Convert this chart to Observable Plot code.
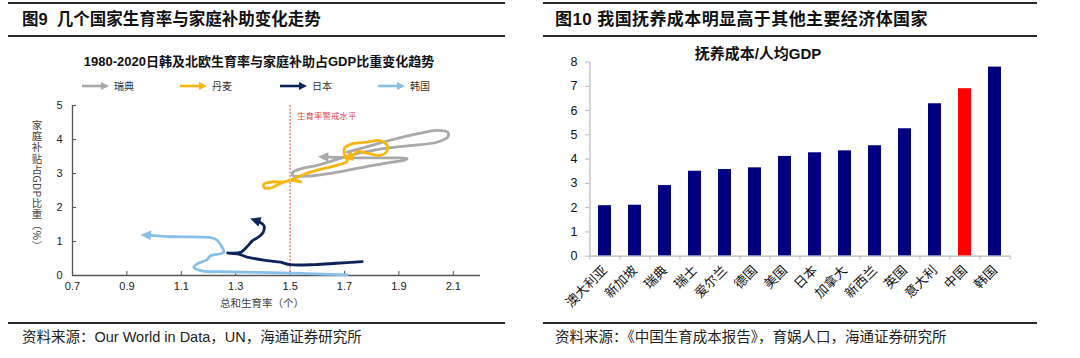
<!DOCTYPE html>
<html><head><meta charset="utf-8">
<script src="https://cdn.jsdelivr.net/npm/d3@7"></script>
<script src="https://cdn.jsdelivr.net/npm/@observablehq/plot@0.6"></script>
<style>
body{margin:0;background:#fff;font-family:"Liberation Sans","Noto Sans CJK SC",sans-serif;color:#111;}
#page{position:relative;width:1080px;height:358px;overflow:hidden;background:#fff;}
.rule{position:absolute;background:#2a2a2a;}
.ttl{position:absolute;font-weight:700;font-size:17px;line-height:17px;white-space:nowrap;color:#111;}
.cap{position:absolute;font-size:14.5px;line-height:15px;white-space:nowrap;color:#222;}
.lg{position:absolute;top:80px;height:12px;font-size:10px;line-height:12px;white-space:nowrap;color:#333;font-family:"Noto Sans CJK SC",sans-serif;}
.lg svg{position:absolute;left:0;top:1px;}
.lg span{position:absolute;top:0;}
svg text{font-family:"Liberation Sans","Noto Sans CJK SC",sans-serif;}
</style></head>
<body><div id="page"></div>
<script>
// ---------- Figure 9 data: (total fertility rate, family benefits % of GDP) paths ----------
const seriesNames = ["瑞典", "丹麦", "日本", "韩国"];
const sweden = [[1.71,3.63],[1.78,3.78],[1.87,3.98],[1.97,4.17],[2.04,4.27],[2.08,4.21],[2.08,4.07],[2.04,3.92],[1.94,3.82],[1.85,3.74],[1.76,3.61],[1.67,3.41],[1.60,3.24],[1.54,3.14],[1.51,3.04],[1.51,2.94],[1.56,2.92],[1.66,3.02],[1.78,3.20],[1.87,3.33],[1.92,3.39],[1.93,3.44],[1.88,3.46],[1.77,3.46],[1.62,3.49]];
const denmark = [[1.54,2.75],[1.50,2.80],[1.465,2.71],[1.43,2.58],[1.406,2.58],[1.403,2.68],[1.43,2.75],[1.48,2.76],[1.51,2.83],[1.55,2.97],[1.61,3.12],[1.67,3.24],[1.71,3.36],[1.70,3.56],[1.70,3.75],[1.73,3.88],[1.78,3.92],[1.83,3.97],[1.855,3.85],[1.855,3.65],[1.83,3.53],[1.78,3.61],[1.75,3.65],[1.73,3.53],[1.71,3.48]];
const japan = [[1.765,0.41],[1.67,0.36],[1.59,0.32],[1.50,0.32],[1.465,0.39],[1.416,0.44],[1.342,0.54],[1.311,0.63],[1.27,0.66],[1.318,0.68],[1.342,0.85],[1.361,1.02],[1.385,1.14],[1.401,1.27],[1.404,1.46],[1.39,1.56],[1.37,1.63]];
const korea = [[1.71,0.02],[1.62,0.04],[1.50,0.07],[1.38,0.09],[1.25,0.11],[1.18,0.13],[1.146,0.24],[1.158,0.34],[1.195,0.47],[1.207,0.58],[1.256,0.68],[1.25,0.83],[1.226,1.07],[1.20,1.12],[1.07,1.14],[0.968,1.19]];
const xTicksL = [0.7, 0.9, 1.1, 1.3, 1.5, 1.7, 1.9, 2.1];
const yTicksL = [0, 1, 2, 3, 4, 5];
const warnLevel = 1.5;
const warnLabel = "生育率警戒水平";

// ---------- Figure 10 data ----------
const countries = ["澳大利亚","新加坡","瑞典","瑞士","爱尔兰","德国","美国","日本","加拿大","新西兰","英国","意大利","中国","韩国"];
const costRatio = [2.08, 2.10, 2.91, 3.50, 3.57, 3.64, 4.11, 4.26, 4.34, 4.55, 5.25, 6.28, 6.90, 7.79];
const yTicksR = [0, 1, 2, 3, 4, 5, 6, 7, 8];

const colors = {"瑞典":"#a9a9a9","丹麦":"#f6b60f","日本":"#0c2559","韩国":"#88c0ea"};
const page = document.getElementById("page");
function add(html){ page.insertAdjacentHTML("beforeend", html); }

// ---------- static frame (rules, titles, captions) ----------
add(`<div class="rule" style="left:8px;top:2px;width:497px;height:2px"></div>`);
add(`<div class="rule" style="left:8px;top:35px;width:497px;height:2px"></div>`);
add(`<div class="rule" style="left:8px;top:322px;width:497px;height:1.5px"></div>`);
add(`<div class="rule" style="left:543px;top:2px;width:494px;height:2px"></div>`);
add(`<div class="rule" style="left:543px;top:35px;width:494px;height:2px"></div>`);
add(`<div class="rule" style="left:543px;top:322px;width:494px;height:1.5px"></div>`);
add(`<div class="ttl" style="left:22px;top:11px;font-size:16.5px">图9&nbsp;&nbsp;几个国家生育率与家庭补助变化走势</div>`);
add(`<div class="ttl" style="left:555px;top:11px;letter-spacing:0.4px">图10 我国抚养成本明显高于其他主要经济体国家</div>`);
add(`<div class="cap" style="left:22px;top:330px">资料来源：Our World in Data，UN，海通证券研究所</div>`);
add(`<div class="cap" style="left:555px;top:330px">资料来源：《中国生育成本报告》，育娲人口，海通证券研究所</div>`);
add(`<div style="position:absolute;left:9px;width:500px;top:55px;text-align:center;font-weight:700;font-size:13px;line-height:14px;white-space:nowrap;color:#111">1980-2020日韩及北欧生育率与家庭补助占GDP比重变化趋势</div>`);
add(`<div style="position:absolute;left:608px;width:300px;top:46px;text-align:center;font-weight:700;font-size:15px;line-height:16px;white-space:nowrap;color:#111">抚养成本/人均GDP</div>`);

// legend
const legendLeft = [82, 180, 280, 378];
seriesNames.forEach((n, i) => {
  const c = colors[n];
  add(`<div class="lg" style="left:${legendLeft[i]}px;width:60px"><svg width="28" height="10"><line x1="0" y1="5" x2="20" y2="5" stroke="${c}" stroke-width="2.6"/><path d="M19,1L27,5L19,9Z" fill="${c}"/></svg><span style="left:32px">${n}</span></div>`);
});

// vertical y-axis title for figure 9: one text element, CJK upright, Latin/brackets turned sideways
(function () {
  const runs = [["家庭补贴占", false], ["GDP", true], ["比重", false], ["（%）", true]];
  const fs = 10.5, cx = 8;
  const meas = document.createElement("canvas").getContext("2d");
  meas.font = `${fs}px "Noto Sans CJK SC"`;
  let y = 1, spans = "";
  for (const [txt, sideways] of runs) {
    for (const ch of txt) {
      if (!sideways) {
        spans += `<tspan x="${cx}" y="${(y + fs * 0.88).toFixed(2)}" text-anchor="middle">${ch}</tspan>`;
        y += fs + 0.6;
      } else {
        const w = meas.measureText(ch).width;
        spans += `<tspan x="${(cx - fs * 0.36).toFixed(2)}" y="${y.toFixed(2)}" rotate="90">${ch}</tspan>`;
        y += w + 0.3;
      }
    }
  }
  add(`<svg style="position:absolute;left:29px;top:119px;overflow:visible" width="16" height="${Math.ceil(y)}"><text font-size="${fs}" fill="#444" style="font-family:'Noto Sans CJK SC'">${spans}</text></svg>`);
})();
add(`<div style="position:absolute;left:162px;width:200px;top:297px;text-align:center;font-family:'Noto Sans CJK SC',sans-serif;font-size:10.5px;line-height:12px;color:#444">总和生育率（个）</div>`);

// ---------- Figure 9 plot ----------
const lineOpts = (c) => ({x: d => d[0], y: d => d[1], stroke: c, strokeWidth: 2.8, curve: "catmull-rom", markerEnd: "arrow", strokeLinejoin: "round", strokeLinecap: "round"});
const left = Plot.plot({
  width: 505, height: 215,
  marginLeft: 72, marginRight: 25, marginTop: 10, marginBottom: 35,
  style: {background: "transparent", fontSize: "11px", color: "#222", overflow: "visible"},
  x: {domain: [0.7, 2.2]},
  y: {domain: [0, 5]},
  marks: [
    Plot.axisX({ticks: xTicksL, tickSize: 0, tickPadding: 7, tickFormat: d3.format(".1f"), label: null, fontSize: 11}),
    Plot.axisY({ticks: yTicksL, tickSize: 0, tickPadding: 10, tickFormat: d3.format("d"), label: null, fontSize: 11}),
    Plot.ruleX(xTicksL, {y1: 0, y2: 0, insetTop: -4, stroke: "#555"}),
    Plot.ruleY(yTicksL, {x1: 0.7, x2: 0.7, insetRight: -4, stroke: "#555"}),
    Plot.ruleX([0.7], {stroke: "#555", strokeWidth: 1.3}),
    Plot.ruleY([0], {stroke: "#555", strokeWidth: 1.3}),
    Plot.ruleX([warnLevel], {stroke: "#e0473f", strokeWidth: 1, strokeDasharray: "2,1.5"}),
    Plot.text([warnLabel], {x: warnLevel, y: 5, text: d => d, dx: 7, dy: 11, textAnchor: "start", fill: "#e0473f", fontSize: 8.5, fontFamily: "Noto Sans CJK SC"}),
    Plot.line(korea, lineOpts(colors["韩国"])),
    Plot.line(japan, lineOpts(colors["日本"])),
    Plot.line(sweden, lineOpts(colors["瑞典"])),
    Plot.line(denmark, lineOpts(colors["丹麦"]))
  ]
});
d3.select(left).selectAll("marker").each(function () {
  const m = d3.select(this);
  const c = m.attr("stroke");
  m.attr("fill", c).attr("stroke", "none");
  m.select("path").attr("d", "M-3,-2.6L2.6,0L-3,2.6Z");
});
left.style.position = "absolute"; left.style.left = "0px"; left.style.top = "95px";
page.appendChild(left);

// ---------- Figure 10 plot ----------
const W = 500, ml = 49, mr = 30;
const step = (W - ml - mr) / countries.length;
const bars = countries.map((c, i) => ({country: c, value: costRatio[i]}));
const right = Plot.plot({
  width: W, height: 280,
  marginLeft: ml, marginRight: mr, marginTop: 21.5, marginBottom: 64.3,
  style: {background: "transparent", fontSize: "12.5px", color: "#111", overflow: "visible"},
  x: {domain: countries, paddingInner: 0.55, paddingOuter: 0.275},
  y: {domain: [0, 8]},
  color: {type: "identity"},
  marks: [
    Plot.barY(bars, {x: "country", y: "value", fill: d => d.country === "中国" ? "#ff0000" : "#000080"}),
    Plot.ruleY([0], {stroke: "#b8b8b8", strokeWidth: 1.2}),
    Plot.ruleX([countries[0]], {dx: -step / 2, stroke: "#b8b8b8", strokeWidth: 1.2}),
    Plot.ruleX(countries, {y1: 0, y2: 0, insetBottom: -4, dx: -step / 2, stroke: "#b8b8b8"}),
    Plot.ruleX([countries[countries.length - 1]], {y1: 0, y2: 0, insetBottom: -4, dx: step / 2, stroke: "#b8b8b8"}),
    Plot.axisY({ticks: yTicksR, tickSize: 4, tickPadding: 8, label: null, stroke: "#b8b8b8", fontSize: 12.5}),
    Plot.axisX({tickSize: 0, tickPadding: 12, tickRotate: -45, label: null, fontSize: 13, fontFamily: "Noto Sans CJK SC"})
  ]
});
right.style.position = "absolute"; right.style.left = "540px"; right.style.top = "40px";
page.appendChild(right);
</script>
</body></html>
